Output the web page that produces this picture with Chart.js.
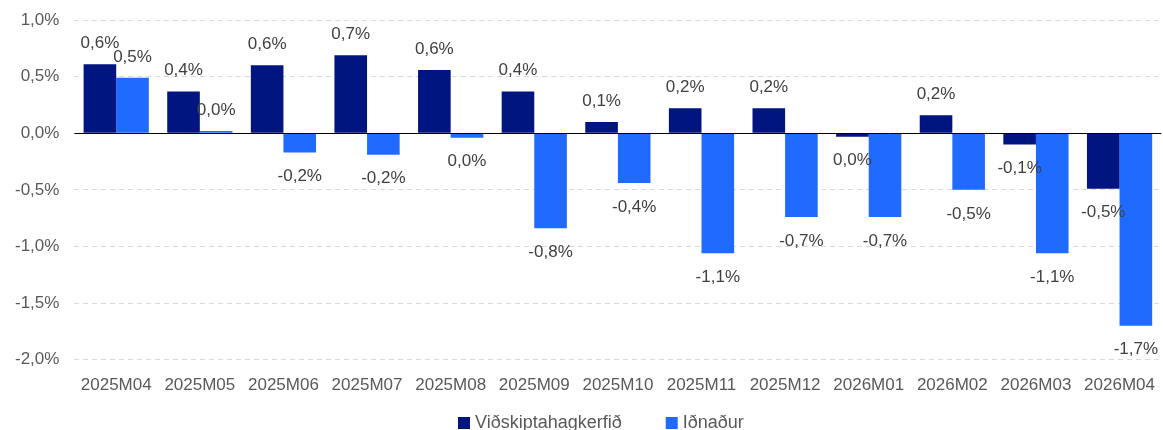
<!DOCTYPE html>
<html><head><meta charset="utf-8">
<script src="https://cdn.jsdelivr.net/npm/chart.js@4"></script>
<style>html,body{margin:0;padding:0;background:#fff}#wrap{width:1163px;height:430px}</style>
</head><body><div id="wrap"><canvas id="c"></canvas></div>
<script>
const categories = ["2025M04","2025M05","2025M06","2025M07","2025M08","2025M09","2025M10","2025M11","2025M12","2026M01","2026M02","2026M03","2026M04"];
const vidskipta = [0.61,0.37,0.60,0.69,0.56,0.37,0.10,0.22,0.22,-0.03,0.16,-0.10,-0.49];
const idnadur = [0.49,0.02,-0.17,-0.19,-0.04,-0.84,-0.44,-1.06,-0.74,-0.74,-0.50,-1.06,-1.70];
const seriesNames = ["Viðskiptahagkerfið","Iðnaður"];

const FONT = "'Liberation Sans', Arial, sans-serif";
const TXT = '#595959';
const fmt = v => v.toFixed(1).replace('.', ',') + '%';

const labelPlugin = {
  id: 'barLabels',
  afterDatasetsDraw(chart) {
    const ctx = chart.ctx;
    const y0 = chart.scales.y.getPixelForValue(0);
    ctx.save();
    ctx.strokeStyle = '#000';
    ctx.lineWidth = 1;
    ctx.beginPath();
    ctx.moveTo(chart.chartArea.left, Math.round(y0) + 0.5);
    ctx.lineTo(chart.chartArea.right, Math.round(y0) + 0.5);
    ctx.stroke();
    ctx.font = '17px ' + FONT;
    ctx.fillStyle = '#404040';
    ctx.textAlign = 'center';
    ctx.textBaseline = 'middle';
    chart.data.datasets.forEach((ds, di) => {
      chart.getDatasetMeta(di).data.forEach((bar, i) => {
        const v = ds.data[i];
        const y = v >= 0 ? bar.y - 21 : bar.y + 24;
        let s = fmt(v);
        if (s === '-0,0%') s = '0,0%';
        ctx.fillText(s, bar.x, y);
      });
    });
    ctx.restore();
  }
};

const legendPlugin = {
  id: 'bottomLegend',
  afterDraw(chart) {
    const ctx = chart.ctx;
    ctx.save();
    ctx.font = '18px ' + FONT;
    ctx.textBaseline = 'middle';
    ctx.textAlign = 'left';
    const box = 12, gap = 5, itemGap = 44;
    const items = chart.data.datasets.map(d => ({ text: d.label, color: d.backgroundColor, w: ctx.measureText(d.label).width }));
    const total = items.reduce((s, it) => s + box + gap + it.w, 0) + itemGap * (items.length - 1);
    const ca = chart.chartArea;
    let x = (ca.left + ca.right) / 2 - 17 - total / 2;
    const yc = 423;
    items.forEach(it => {
      ctx.fillStyle = it.color;
      ctx.fillRect(x, yc - box / 2, box, box);
      ctx.fillStyle = TXT;
      ctx.fillText(it.text, x + box + gap, yc);
      x += box + gap + it.w + itemGap;
    });
    ctx.restore();
  }
};

new Chart(document.getElementById('c'), {
  type: 'bar',
  data: {
    labels: categories,
    datasets: [
      { label: seriesNames[0], data: vidskipta, backgroundColor: '#001580', categoryPercentage: 0.78, barPercentage: 1 },
      { label: seriesNames[1], data: idnadur, backgroundColor: '#1F6BFF', categoryPercentage: 0.78, barPercentage: 1 }
    ]
  },
  options: {
    responsive: true, maintainAspectRatio: false, animation: false,
    layout: { padding: { top: 4, right: 0, left: 0, bottom: 26 } },
    plugins: {
      legend: { display: false },
      tooltip: { enabled: false }
    },
    scales: {
      x: {
        grid: { display: false },
        border: { display: false },
        ticks: { font: { family: FONT, size: 17 }, color: TXT, maxRotation: 0, padding: 8 }
      },
      y: {
        min: -2, max: 1,
        ticks: { stepSize: 0.5, font: { family: FONT, size: 17, lineHeight: 0.6 }, color: TXT, padding: 15, callback: v => fmt(v) },
        grid: { color: '#d9d9d9', drawTicks: false },
        border: { display: false, dash: [5, 4] }
      }
    }
  },
  plugins: [labelPlugin, legendPlugin]
});
</script></body></html>
